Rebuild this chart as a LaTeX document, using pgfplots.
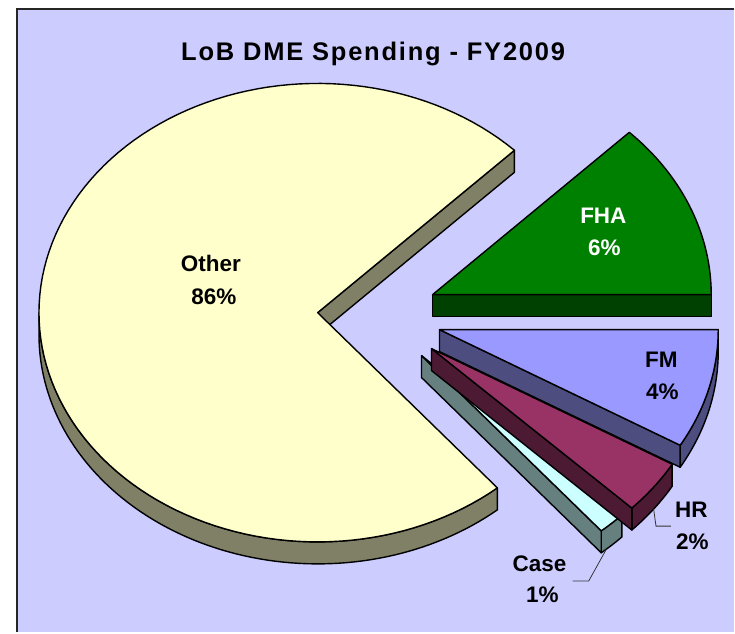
\documentclass[border=0pt]{standalone}
\usepackage{pgfplots}
\usepackage{pgfplotstable}
\pgfplotsset{compat=1.18}
\usepackage{fontspec}
\setmainfont{Liberation Sans}
\newfontfamily\titlefont[LetterSpace=7]{Liberation Sans}

\definecolor{bgc}{RGB}{204,204,255}
\definecolor{otherTop}{RGB}{255,255,204}
\definecolor{otherSide}{RGB}{128,128,102}
\definecolor{fhaTop}{RGB}{0,128,0}
\definecolor{fhaSide}{RGB}{0,64,0}
\definecolor{fmTop}{RGB}{153,153,255}
\definecolor{fmSide}{RGB}{77,77,128}
\definecolor{hrTop}{RGB}{153,51,102}
\definecolor{hrSide}{RGB}{77,26,51}
\definecolor{caseTop}{RGB}{204,255,255}
\definecolor{caseSide}{RGB}{102,128,128}

% share of spending (percent) and the apex of each exploded slice (px)
\pgfplotstableread{
slice value ax ay
Other 86.4 318 313
FHA 6.3 433 295
FM 3.8 440 330
HR 2.3 432 349
Case 1.2 422 356
}\piedata

\newcommand{\rx}{279}
\newcommand{\ry}{229.5}
\newcommand{\dd}{22}
\tikzset{slab/.style={draw=black, line width=1.4pt, line join=round}}

% outer (front) side of a slice: #1 ax, #2 ay, #3 from, #4 to, #5 colour
\newcommand{\arcside}[5]{%
 \addplot[slab, fill=#5, variable=\t, samples at={0,1,...,161}]
  ({#1+\rx*cos(ifthenelse(\t<80.5, (#3)+((#4)-(#3))*\t/80, (#4)-((#4)-(#3))*(\t-81)/80))},
   {#2-\ry*sin(ifthenelse(\t<80.5, (#3)+((#4)-(#3))*\t/80, (#4)-((#4)-(#3))*(\t-81)/80))+\dd*(\t>80.5)}) -- cycle;}
% cut face along the start edge: #1 ax, #2 ay, #3 angle, #4 colour
\newcommand{\cutface}[4]{%
 \addplot[slab, fill=#4, variable=\t, samples at={0,1,2,3}]
  ({#1+(\t>0.5)*(\t<2.5)*\rx*cos(#3)},
   {#2-(\t>0.5)*(\t<2.5)*\ry*sin(#3)+\dd*(\t>1.5)}) -- cycle;}
% top face: #1 ax, #2 ay, #3 from, #4 to, #5 colour
\newcommand{\topface}[5]{%
 \addplot[slab, fill=#5, variable=\t, samples at={0,1,...,121}]
  ({#1+(\t<120.5)*\rx*cos((#3)+((#4)-(#3))*min(\t,120)/120)},
   {#2-(\t<120.5)*\ry*sin((#3)+((#4)-(#3))*min(\t,120)/120)}) -- cycle;}

\newcommand{\lab}{\fontsize{22.5}{26}\selectfont\bfseries}

\begin{document}
\begin{tikzpicture}
\pgfplotstablegetelem{0}{value}\of\piedata \let\vOther\pgfplotsretval
\pgfplotstablegetelem{1}{value}\of\piedata \let\vFHA\pgfplotsretval
\pgfplotstablegetelem{2}{value}\of\piedata \let\vFM\pgfplotsretval
\pgfplotstablegetelem{3}{value}\of\piedata \let\vHR\pgfplotsretval
\pgfplotstablegetelem{4}{value}\of\piedata \let\vCase\pgfplotsretval
\pgfplotstablegetelem{0}{ax}\of\piedata \let\xOther\pgfplotsretval
\pgfplotstablegetelem{0}{ay}\of\piedata \let\yOther\pgfplotsretval
\pgfplotstablegetelem{1}{ax}\of\piedata \let\xFHA\pgfplotsretval
\pgfplotstablegetelem{1}{ay}\of\piedata \let\yFHA\pgfplotsretval
\pgfplotstablegetelem{2}{ax}\of\piedata \let\xFM\pgfplotsretval
\pgfplotstablegetelem{2}{ay}\of\piedata \let\yFM\pgfplotsretval
\pgfplotstablegetelem{3}{ax}\of\piedata \let\xHR\pgfplotsretval
\pgfplotstablegetelem{3}{ay}\of\piedata \let\yHR\pgfplotsretval
\pgfplotstablegetelem{4}{ax}\of\piedata \let\xCase\pgfplotsretval
\pgfplotstablegetelem{4}{ay}\of\piedata \let\yCase\pgfplotsretval
% perspective: true angle -> drawn angle
\pgfmathsetmacro{\kk}{2.4}
\pgfmathsetmacro{\tFHA}{3.6*\vFHA}
\pgfmathsetmacro{\tFM}{-3.6*\vFM}
\pgfmathsetmacro{\tHR}{-3.6*(\vFM+\vHR)}
\pgfmathsetmacro{\tCase}{-3.6*(\vFM+\vHR+\vCase)}
\pgfmathsetmacro{\pFHA}{atan2(\kk*sin(\tFHA),cos(\tFHA))}
\pgfmathsetmacro{\pFM}{atan2(\kk*sin(\tFM),cos(\tFM))}
\pgfmathsetmacro{\pHR}{atan2(\kk*sin(\tHR),cos(\tHR))}
\pgfmathsetmacro{\pCase}{atan2(\kk*sin(\tCase),cos(\tCase))}
\pgfmathsetmacro{\qFM}{\pFM+360}
\pgfmathsetmacro{\qHR}{\pHR+360}
\pgfmathsetmacro{\qCase}{\pCase+360}
\begin{axis}[x=1pt, y=1pt, xmin=0, xmax=735, ymin=0, ymax=633,
  y dir=reverse, hide axis, clip=false]
% background
\addplot[fill=white, draw=none] coordinates {(0,0) (735,0) (735,633) (0,633)} -- cycle;
\addplot[fill=bgc, draw=none] coordinates {(16,8) (735,8) (735,633) (16,633)} -- cycle;
\addplot[draw=black!85, line width=1.6pt] coordinates {(16.8,633) (16.8,8.8) (735,8.8)};
% Other
\arcside{\xOther}{\yOther}{180}{\qCase}{otherSide}
\cutface{\xOther}{\yOther}{\pFHA}{otherSide}
\topface{\xOther}{\yOther}{\pFHA}{\qCase}{otherTop}
% FHA
\cutface{\xFHA}{\yFHA}{0}{fhaSide}
\topface{\xFHA}{\yFHA}{0}{\pFHA}{fhaTop}
% Case
\arcside{\xCase}{\yCase}{\qCase}{\qHR}{caseSide}
\cutface{\xCase}{\yCase}{\pCase}{caseSide}
\topface{\xCase}{\yCase}{\pCase}{\pHR}{caseTop}
% HR
\arcside{\xHR}{\yHR}{\qHR}{\qFM}{hrSide}
\cutface{\xHR}{\yHR}{\pHR}{hrSide}
\topface{\xHR}{\yHR}{\pHR}{\pFM}{hrTop}
% FM
\arcside{\xFM}{\yFM}{\qFM}{360}{fmSide}
\cutface{\xFM}{\yFM}{\pFM}{fmSide}
\topface{\xFM}{\yFM}{\pFM}{0}{fmTop}
% leader lines
\addplot[draw=black!80, line width=0.8pt] coordinates {(654.3,509.3) (656.7,526.7) (671.7,526.7)};
\addplot[draw=black!80, line width=0.8pt] coordinates {(607.3,549.3) (589.3,581.7) (573.3,581.7)};
% labels
\node[anchor=base, font=\lab] at (axis cs:211,272) {Other};
\node[anchor=base, font=\lab] at (axis cs:214,305) {86\%};
\node[anchor=base, font=\lab, text=white] at (axis cs:604,224) {FHA};
\node[anchor=base, font=\lab, text=white] at (axis cs:605,256) {6\%};
\node[anchor=base, font=\lab] at (axis cs:662,368) {FM};
\node[anchor=base, font=\lab] at (axis cs:663,400) {4\%};
\node[anchor=base, font=\lab] at (axis cs:692,518) {HR};
\node[anchor=base, font=\lab] at (axis cs:693,550) {2\%};
\node[anchor=base, font=\lab] at (axis cs:540,572) {Case};
\node[anchor=base, font=\lab] at (axis cs:543,603) {1\%};
% title
\node[anchor=base] at (axis cs:373.5,61) {\titlefont\fontsize{25.5}{30}\selectfont\bfseries LoB DME Spending - FY2009};
\end{axis}
\end{tikzpicture}
\end{document}
